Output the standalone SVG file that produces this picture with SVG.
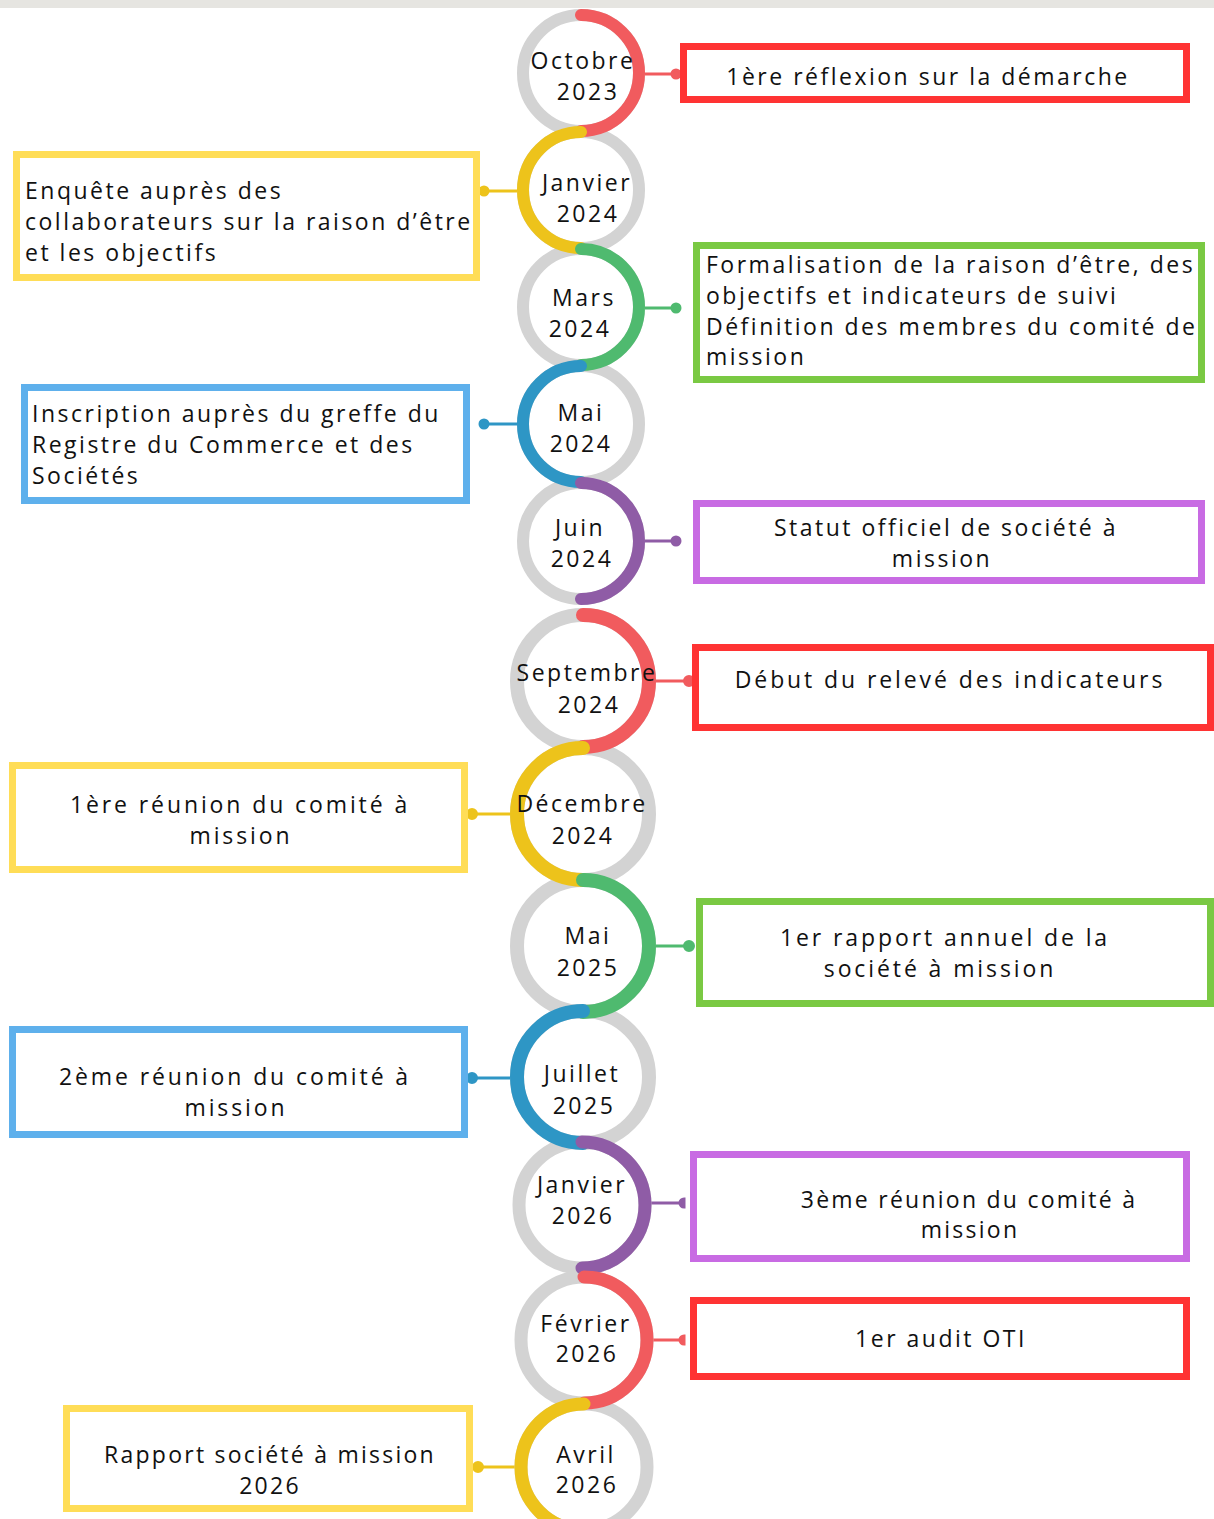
<svg xmlns="http://www.w3.org/2000/svg" width="1214" height="1519" viewBox="0 0 1214 1519">
<style>
.ring{fill:none;stroke:#d3d3d3}
.arc{fill:none;stroke-linecap:round}
.box{fill:#fff;stroke-width:7}
.t{font-family:"Open Sans","Liberation Sans",sans-serif;font-size:23px;letter-spacing:2.5px;fill:#111}
.w{letter-spacing:2.9px}
.n{letter-spacing:2.25px}
.c{text-anchor:middle}
.red{stroke:#f15b5e}.yel{stroke:#edc31b}.grn{stroke:#4fba6f}.blu{stroke:#2e96c5}.pur{stroke:#8f5ca6}
.lred{stroke:#f15b5e;fill:#f15b5e}.lyel{stroke:#edc31b;fill:#edc31b}.lgrn{stroke:#4fba6f;fill:#4fba6f}.lblu{stroke:#2e96c5;fill:#2e96c5}.lpur{stroke:#8f5ca6;fill:#8f5ca6}
.bred{stroke:#ff3333}.byel{stroke:#ffdd57}.bgrn{stroke:#7ac943}.bblu{stroke:#5eb0ec}.bpur{stroke:#c86be3}
</style>
<rect x="0" y="0" width="1214" height="8" fill="#e6e5e1"/>

<g id="connectors" stroke-width="3">
<line class="lred" x1="640" y1="74" x2="676" y2="74"/><circle class="lred" cx="676" cy="74" r="4" stroke="none"/>
<line class="lyel" x1="484" y1="191" x2="522" y2="191"/><circle class="lyel" cx="484" cy="191" r="4" stroke="none"/>
<line class="lgrn" x1="640" y1="308" x2="676" y2="308"/><circle class="lgrn" cx="676" cy="308" r="4" stroke="none"/>
<line class="lblu" x1="484" y1="424" x2="522" y2="424"/><circle class="lblu" cx="484" cy="424" r="4" stroke="none"/>
<line class="lpur" x1="640" y1="541" x2="676" y2="541"/><circle class="lpur" cx="676" cy="541" r="4" stroke="none"/>
<line class="lred" x1="650" y1="681" x2="689" y2="681"/><circle class="lred" cx="689" cy="681" r="4.5" stroke="none"/>
<line class="lyel" x1="472" y1="814" x2="516" y2="814"/><circle class="lyel" cx="472" cy="814" r="4.5" stroke="none"/>
<line class="lgrn" x1="650" y1="946" x2="689" y2="946"/><circle class="lgrn" cx="689" cy="946" r="4.5" stroke="none"/>
<line class="lblu" x1="472" y1="1078" x2="516" y2="1078"/><circle class="lblu" cx="472" cy="1078" r="4.5" stroke="none"/>
<line class="lpur" x1="645" y1="1203" x2="684" y2="1203"/><path class="lpur" stroke="none" d="M684 1199 A4 4 0 0 0 684 1207 Z"/>
<line class="lred" x1="646" y1="1340" x2="684" y2="1340"/><path class="lred" stroke="none" d="M684 1336 A4 4 0 0 0 684 1344 Z"/>
<line class="lyel" x1="478" y1="1467" x2="520" y2="1467"/><circle class="lyel" cx="478" cy="1467" r="4.5" stroke="none"/>
</g>

<g id="rings">
<circle class="ring" cx="581" cy="73" r="58" stroke-width="12"/>
<circle class="ring" cx="581" cy="190" r="58" stroke-width="12"/>
<circle class="ring" cx="581" cy="307" r="58" stroke-width="12"/>
<circle class="ring" cx="581" cy="424" r="58" stroke-width="12"/>
<circle class="ring" cx="581" cy="541" r="58" stroke-width="12"/>
<circle class="ring" cx="583" cy="681" r="66" stroke-width="14"/>
<circle class="ring" cx="583" cy="814" r="66" stroke-width="14"/>
<circle class="ring" cx="583" cy="946" r="66" stroke-width="14"/>
<circle class="ring" cx="583" cy="1077" r="66" stroke-width="14"/>
<circle class="ring" cx="582" cy="1205" r="63" stroke-width="13"/>
<circle class="ring" cx="584" cy="1340" r="63" stroke-width="13"/>
<circle class="ring" cx="584" cy="1467" r="63" stroke-width="13"/>
</g>

<g id="n1"><path class="arc red" stroke-width="12" d="M581 15 A58 58 0 0 1 581 131"/>
<text class="t c" x="583" y="69">Octobre</text><text class="t c" x="588" y="100">2023</text></g>
<g id="n2"><path class="arc yel" stroke-width="12" d="M581 132 A58 58 0 0 0 581 248"/>
<text class="t c" x="587" y="191">Janvier</text><text class="t c" x="588" y="222">2024</text></g>
<g id="n3"><path class="arc grn" stroke-width="12" d="M581 249 A58 58 0 0 1 581 365"/>
<text class="t c" x="584" y="306">Mars</text><text class="t c" x="580" y="337">2024</text></g>
<g id="n4"><path class="arc blu" stroke-width="12" d="M581 366 A58 58 0 0 0 581 482"/>
<text class="t c" x="581" y="421">Mai</text><text class="t c" x="581" y="452">2024</text></g>
<g id="n5"><path class="arc pur" stroke-width="12" d="M581 483 A58 58 0 0 1 581 599"/>
<text class="t c" x="580" y="536">Juin</text><text class="t c" x="582" y="567">2024</text></g>
<g id="n6"><path class="arc red" stroke-width="14" d="M583 615 A66 66 0 0 1 583 747"/>
<text class="t c" x="587" y="681">Septembre</text><text class="t c" x="589" y="713">2024</text></g>
<g id="n7"><path class="arc yel" stroke-width="14" d="M583 748 A66 66 0 0 0 583 880"/>
<text class="t c" x="582" y="812">Décembre</text><text class="t c" x="583" y="844">2024</text></g>
<g id="n8"><path class="arc grn" stroke-width="14" d="M583 880 A66 66 0 0 1 583 1012"/>
<text class="t c" x="588" y="944">Mai</text><text class="t c" x="588" y="976">2025</text></g>
<g id="n9"><path class="arc blu" stroke-width="14" d="M583 1011 A66 66 0 0 0 583 1143"/>
<text class="t c" x="582" y="1082">Juillet</text><text class="t c" x="584" y="1114">2025</text></g>
<g id="n10"><path class="arc pur" stroke-width="13" d="M582 1142 A63 63 0 0 1 582 1268"/>
<text class="t c" x="582" y="1193">Janvier</text><text class="t c" x="583" y="1224">2026</text></g>
<g id="n11"><path class="arc red" stroke-width="13" d="M584 1277 A63 63 0 0 1 584 1403"/>
<text class="t c" x="586" y="1332">Février</text><text class="t c" x="587" y="1362">2026</text></g>
<g id="n12"><path class="arc yel" stroke-width="13" d="M584 1404 A63 63 0 0 0 584 1530"/>
<text class="t c" x="586" y="1463">Avril</text><text class="t c" x="587" y="1493">2026</text></g>

<g id="b1"><rect class="box bred" x="683.5" y="46.5" width="503" height="53"/>
<text class="t c" x="928" y="85">1ère réflexion sur la démarche</text></g>
<g id="b2"><rect class="box byel" x="16.5" y="154.5" width="460" height="123"/>
<text class="t" x="25" y="199">Enquête auprès des</text><text class="t" x="25" y="230">collaborateurs sur la raison d’être</text><text class="t" x="25" y="261">et les objectifs</text></g>
<g id="b3"><rect class="box bgrn" x="696.5" y="245.5" width="505" height="134"/>
<text class="t" x="706" y="273">Formalisation de la raison d’être, des</text><text class="t" x="706" y="304">objectifs et indicateurs de suivi</text><text class="t" x="706" y="335">Définition des membres du comité de</text><text class="t" x="706" y="365">mission</text></g>
<g id="b4"><rect class="box bblu" x="24.5" y="387.5" width="442" height="113"/>
<text class="t" x="32" y="422">Inscription auprès du greffe du</text><text class="t" x="32" y="453">Registre du Commerce et des</text><text class="t" x="32" y="484">Sociétés</text></g>
<g id="b5"><rect class="box bpur" x="696.5" y="503.5" width="505" height="77"/>
<text class="t c" x="946" y="536">Statut officiel de société à</text><text class="t c" x="942" y="567">mission</text></g>
<g id="b6"><rect class="box bred" x="695.5" y="647.5" width="515" height="80"/>
<text class="t c w" x="950" y="688">Début du relevé des indicateurs</text></g>
<g id="b7"><rect class="box byel" x="12.5" y="765.5" width="452" height="104"/>
<text class="t c w" x="240" y="813">1ère réunion du comité à</text><text class="t c w" x="241" y="844">mission</text></g>
<g id="b8"><rect class="box bgrn" x="699.5" y="901.5" width="511" height="102"/>
<text class="t c w" x="945" y="946">1er rapport annuel de la</text><text class="t c w" x="940" y="977">société à mission</text></g>
<g id="b9"><rect class="box bblu" x="12.5" y="1029.5" width="452" height="105"/>
<text class="t c w" x="235" y="1085">2ème réunion du comité à</text><text class="t c w" x="236" y="1116">mission</text></g>
<g id="b10"><rect class="box bpur" x="693.5" y="1154.5" width="493" height="104"/>
<text class="t c n" x="969" y="1208">3ème réunion du comité à</text><text class="t c n" x="970" y="1238">mission</text></g>
<g id="b11"><rect class="box bred" x="693.5" y="1300.5" width="493" height="76"/>
<text class="t c" x="941" y="1347">1er audit OTI</text></g>
<g id="b12"><rect class="box byel" x="66.5" y="1408.5" width="403" height="100"/>
<text class="t c n" x="270" y="1463">Rapport société à mission</text><text class="t c n" x="270" y="1494">2026</text></g>
</svg>
